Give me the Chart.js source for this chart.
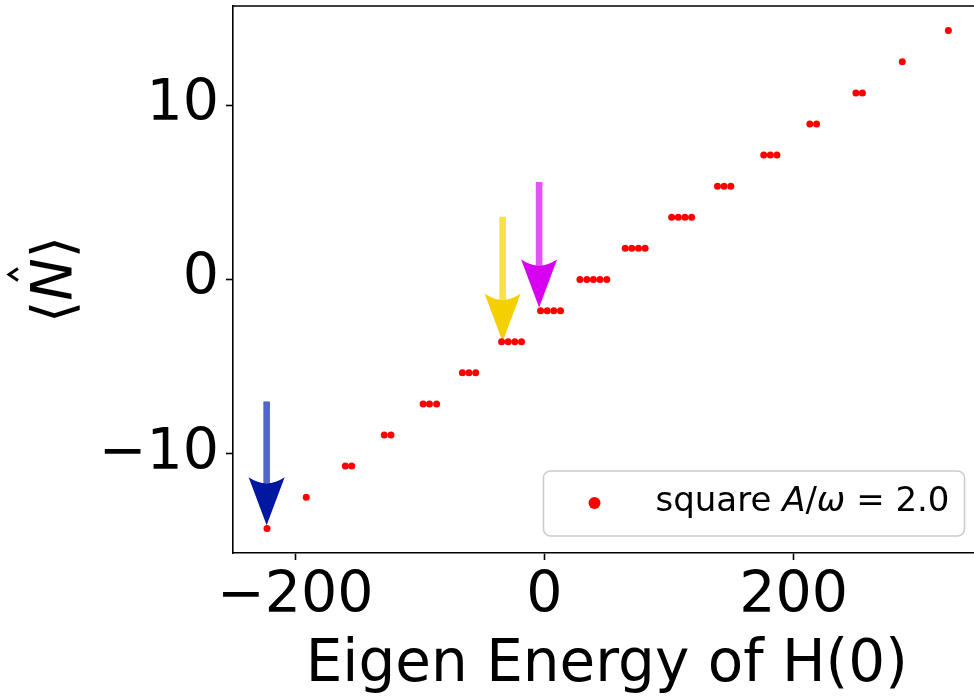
<!DOCTYPE html>
<html>
<head>
<meta charset="utf-8">
<script src="https://cdn.jsdelivr.net/npm/chart.js@4/dist/chart.umd.min.js"></script>
<style>
  html, body { margin: 0; padding: 0; background: #fff; overflow: hidden; }
  #wrap { width: 984px; height: 697px; }
</style>
</head>
<body>
<div id="wrap"><canvas id="myChart" width="984" height="697"></canvas></div>
<script>
// eigen energies of H(0) and the matching <N> values
const energy = [
  -222.7,
  -191.2,
  -159.8, -154.7,
  -128.6, -123.2,
  -97.4, -92.3, -86.6,
  -65.9, -60.6, -55.2,
  -34.4, -29.1, -23.8, -18.4,
  -3.1, 2.2, 7.5, 12.9,
  28.5, 34.0, 39.3, 44.6, 50.0,
  64.8, 70.1, 75.4, 80.8,
  102.1, 107.4, 112.8, 118.1,
  138.9, 144.2, 149.6,
  176.0, 181.3, 186.6,
  213.0, 218.4,
  250.0, 255.2,
  287.2,
  324.2
];
const nExpect = [
  -14.29,
  -12.50,
  -10.71, -10.71,
  -8.93, -8.93,
  -7.14, -7.14, -7.14,
  -5.36, -5.36, -5.36,
  -3.57, -3.57, -3.57, -3.57,
  -1.79, -1.79, -1.79, -1.79,
  0, 0, 0, 0, 0,
  1.79, 1.79, 1.79, 1.79,
  3.57, 3.57, 3.57, 3.57,
  5.36, 5.36, 5.36,
  7.14, 7.14, 7.14,
  8.93, 8.93,
  10.71, 10.71,
  12.50,
  14.29
];
const xTicks = [-200, 0, 200];
const yTicks = [-10, 0, 10];
const xTitle = 'Eigen Energy of H(0)';
// legend text in pieces: [text, italic?]
const seriesLabel = [['square ', false], ['A', true], ['/', false], ['ω', true], [' = 2.0', false]];

// arrows: x position, start and end of each arrow (data units)
const arrowX = [-223, -33.6, -4.3];
const arrowFrom = [-7.0, 3.6, 5.6];
const arrowTo = [-14.1, -3.57, -1.61];
const arrowShaft = ['#5265c8', '#f9df4a', '#e055f5'];
const arrowHead = ['#0018a0', '#f5d000', '#d800f0'];

const FONT = 'DejaVu Sans';
const fmt = v => v < 0 ? '\u2212' + Math.abs(v) : String(v);

const extras = {
  id: 'extras',
  beforeDatasetsDraw(chart) {
    const ctx = chart.ctx;
    const xs = chart.scales.x, ys = chart.scales.y;
    ctx.save();
    for (let i = 0; i < arrowX.length; i++) {
      const x = xs.getPixelForValue(arrowX[i]);
      const y0 = ys.getPixelForValue(arrowFrom[i]);
      const y1 = ys.getPixelForValue(arrowTo[i]);
      const headLen = 48, headHalf = 18, notch = 6, shaftHalf = 3.3;
      ctx.fillStyle = arrowShaft[i];
      ctx.fillRect(x - shaftHalf, y0, shaftHalf * 2, (y1 - headLen + notch) - y0);
      ctx.fillStyle = arrowHead[i];
      ctx.beginPath();
      ctx.moveTo(x, y1);
      ctx.lineTo(x - headHalf, y1 - headLen);
      ctx.quadraticCurveTo(x, y1 - headLen + notch * 2, x + headHalf, y1 - headLen);
      ctx.closePath();
      ctx.fill();
    }
    ctx.restore();
  },
  afterDraw(chart) {
    const ctx = chart.ctx;
    const ca = chart.chartArea;
    ctx.save();
    // top and right spines
    ctx.strokeStyle = '#000';
    ctx.lineWidth = 1.6;
    ctx.beginPath();
    ctx.moveTo(ca.left, ca.top);
    ctx.lineTo(ca.right, ca.top);
    ctx.lineTo(ca.right, ca.bottom);
    ctx.stroke();

    // y title  <N^>
    ctx.translate(72, (ca.top + ca.bottom) / 2);
    ctx.rotate(-Math.PI / 2);
    ctx.fillStyle = '#000';
    ctx.textBaseline = 'alphabetic';
    const normal = '57px "' + FONT + '"';
    const italic = 'italic 57px "' + FONT + '"';
    ctx.font = normal;
    const wl = ctx.measureText('\u27E8').width;
    const wr = ctx.measureText('\u27E9').width;
    ctx.font = italic;
    const wn = ctx.measureText('N').width;
    let tx = -(wl + wn + wr) / 2;
    ctx.font = normal;
    ctx.fillText('\u27E8', tx, 0);
    tx += wl;
    ctx.font = italic;
    ctx.fillText('N', tx, 0);
    const hc = tx + wn / 2 + 5;
    ctx.beginPath();
    ctx.lineWidth = 3;
    ctx.moveTo(hc - 6, -54);
    ctx.lineTo(hc, -63);
    ctx.lineTo(hc + 6, -54);
    ctx.stroke();
    tx += wn;
    ctx.font = normal;
    ctx.fillText('\u27E9', tx, 0);
    ctx.restore();

    // legend
    ctx.save();
    const bw = 421, bh = 65;
    const bx = ca.right - 16 - bw, by = ca.bottom - 17 - bh;
    ctx.beginPath();
    ctx.roundRect(bx, by, bw, bh, 7);
    ctx.fillStyle = 'rgba(255,255,255,0.8)';
    ctx.fill();
    ctx.strokeStyle = '#cccccc';
    ctx.lineWidth = 1.6;
    ctx.stroke();
    ctx.fillStyle = '#ff0000';
    ctx.beginPath();
    ctx.arc(bx + 51, by + 32, 6, 0, Math.PI * 2);
    ctx.fill();
    ctx.fillStyle = '#000';
    ctx.textBaseline = 'alphabetic';
    let lx = bx + 112;
    seriesLabel.forEach(([t, it]) => {
      ctx.font = (it ? 'italic ' : '') + '34px "' + FONT + '"';
      ctx.fillText(t, lx, by + 40);
      lx += ctx.measureText(t).width;
    });
    ctx.restore();
  }
};

new Chart(document.getElementById('myChart'), {
  type: 'scatter',
  data: {
    datasets: [{
      label: 'square A/ω = 2.0',
      data: energy.map((e, i) => ({ x: e, y: nExpect[i] })),
      backgroundColor: '#ff0000',
      borderWidth: 0,
      pointRadius: 3.5,
      pointHoverRadius: 3.5
    }]
  },
  options: {
    responsive: false,
    animation: false,
    devicePixelRatio: 1,
    layout: { padding: { top: 6, right: 1, left: 0, bottom: 0 } },
    plugins: { legend: { display: false }, tooltip: { enabled: false } },
    scales: {
      x: {
        type: 'linear',
        min: -250,
        max: 350,
        afterBuildTicks: s => { s.ticks = xTicks.map(v => ({ value: v })); },
        afterFit: s => { s.height = 144; s.paddingLeft = 0; s.paddingRight = 0; },
        grid: { drawOnChartArea: false, drawTicks: true, tickLength: 7, tickWidth: 1.6, tickColor: '#000' },
        border: { display: true, color: '#000', width: 1.6 },
        ticks: { font: { family: FONT, size: 57 }, color: '#000', padding: 3, maxRotation: 0, callback: fmt },
        title: { display: true, text: xTitle, color: '#000', font: { family: FONT, size: 58, lineHeight: 1.2 }, padding: { top: 0, bottom: -4 } }
      },
      y: {
        type: 'linear',
        min: -15.7,
        max: 15.7,
        afterBuildTicks: s => { s.ticks = yTicks.map(v => ({ value: v })); },
        afterFit: s => { s.width = 233; s.paddingTop = 0; s.paddingBottom = 0; },
        grid: { drawOnChartArea: false, drawTicks: true, tickLength: 7, tickWidth: 1.6, tickColor: '#000' },
        border: { display: true, color: '#000', width: 1.6 },
        ticks: { font: { family: FONT, size: 57 }, color: '#000', padding: 7, callback: fmt }
      }
    }
  },
  plugins: [extras]
});
</script>
</body>
</html>
